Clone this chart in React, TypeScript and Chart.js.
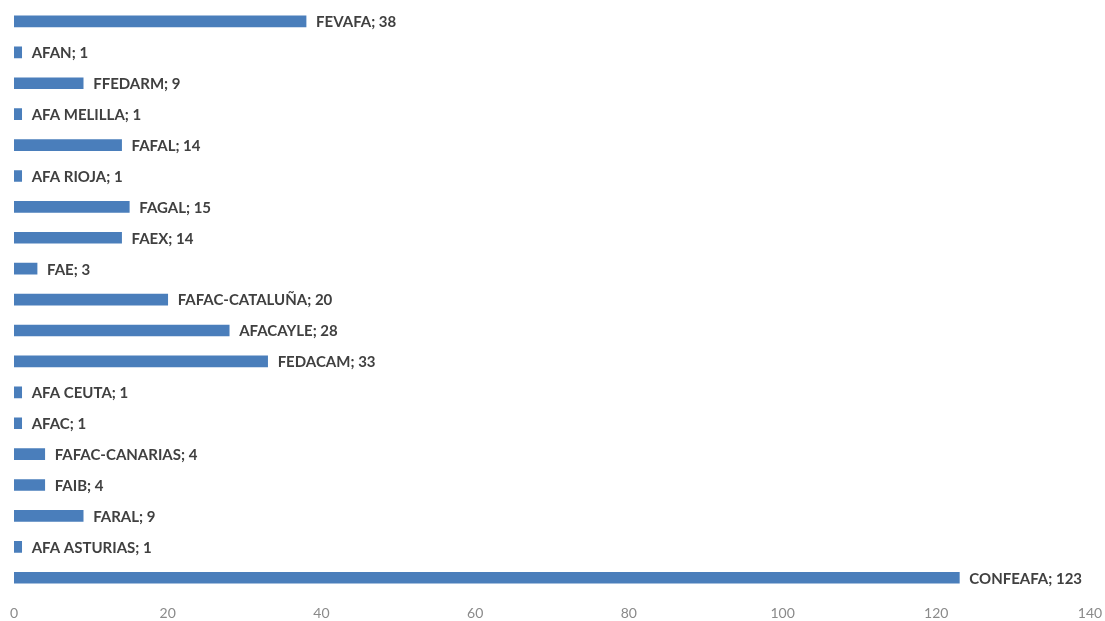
import React, { useEffect, useRef } from "react";
import { Chart, registerables } from "chart.js";

Chart.register(...registerables);

const categories = [
  "FEVAFA",
  "AFAN",
  "FFEDARM",
  "AFA MELILLA",
  "FAFAL",
  "AFA RIOJA",
  "FAGAL",
  "FAEX",
  "FAE",
  "FAFAC-CATALUÑA",
  "AFACAYLE",
  "FEDACAM",
  "AFA CEUTA",
  "AFAC",
  "FAFAC-CANARIAS",
  "FAIB",
  "FARAL",
  "AFA ASTURIAS",
  "CONFEAFA",
];

const values = [38, 1, 9, 1, 14, 1, 15, 14, 3, 20, 28, 33, 1, 1, 4, 4, 9, 1, 123];

const xMin = 0;
const xMax = 140;
const xStep = 20;

const BAR_COLOR = "#4a7ebb";
const LABEL_COLOR = "#404040";
const TICK_COLOR = "#8a8a8a";

const labelPlugin = {
  id: "barLabels",
  afterDatasetsDraw(chart: any) {
    const ctx = chart.ctx;
    const meta = chart.getDatasetMeta(0);
    ctx.save();
    ctx.font = "bold 15px Lato";
    ctx.fillStyle = LABEL_COLOR;
    ctx.textAlign = "left";
    ctx.textBaseline = "middle";
    meta.data.forEach((bar: any, i: number) => {
      const text = categories[i] + "; " + values[i];
      ctx.fillText(text, bar.x + 10, bar.y + 1);
    });
    ctx.restore();
  },
};

export default function App() {
  const ref = useRef<HTMLCanvasElement>(null);

  useEffect(() => {
    document.body.style.margin = "0";
    const canvas = ref.current;
    if (!canvas) return;
    const chart = new Chart(canvas, {
      type: "bar",
      data: {
        labels: categories,
        datasets: [
          {
            data: values,
            backgroundColor: BAR_COLOR,
            borderWidth: 0,
            barThickness: 11,
          },
        ],
      },
      options: {
        indexAxis: "y",
        animation: false,
        responsive: false,
        layout: { padding: { left: 14, right: 15, top: 6, bottom: -13 } },
        plugins: {
          legend: { display: false },
          tooltip: { enabled: false },
          title: { display: false },
        },
        scales: {
          y: {
            display: false,
          },
          x: {
            min: xMin,
            max: xMax,
            grid: { display: false, drawTicks: false },
            border: { display: false },
            afterFit(scale: any) {
              scale.paddingLeft = 0;
              scale.paddingRight = 0;
            },
            ticks: {
              stepSize: xStep,
              color: TICK_COLOR,
              font: { family: "Lato", size: 14 },
              padding: 12,
              maxRotation: 0,
            },
          },
        },
      },
      plugins: [labelPlugin],
    });
    return () => chart.destroy();
  }, []);

  return (
    <div style={{ width: 1105, height: 621 }}>
      <canvas ref={ref} width={1105} height={621} style={{ display: "block" }} />
    </div>
  );
}
